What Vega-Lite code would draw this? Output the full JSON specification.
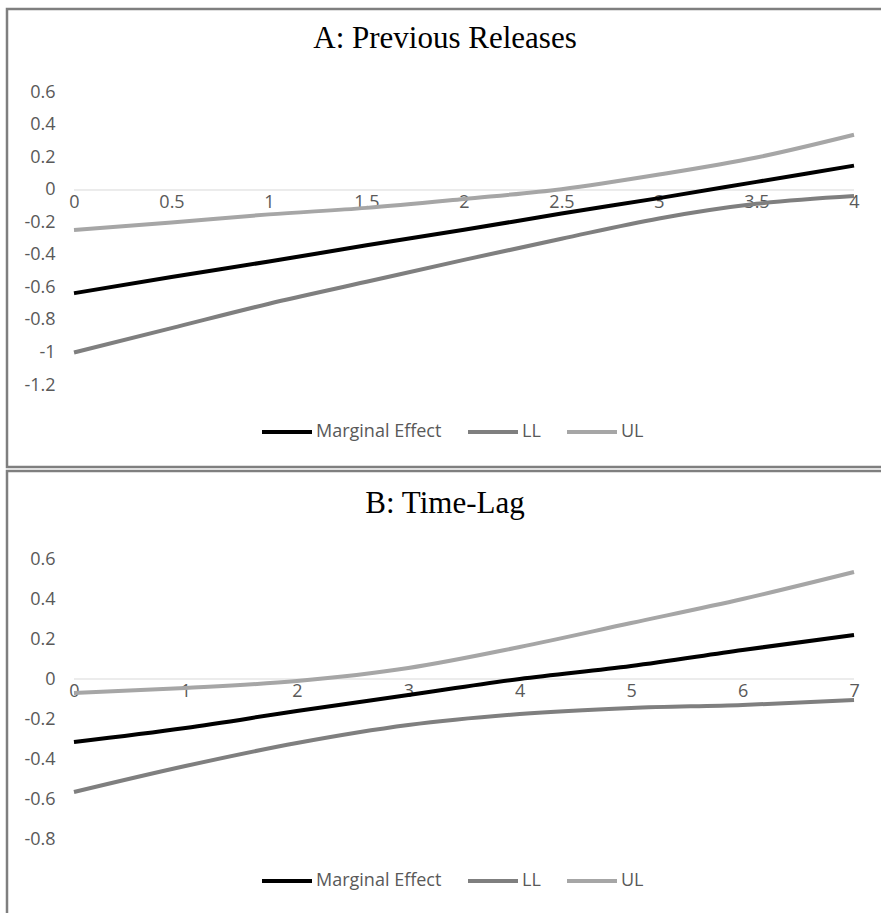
{
  "$schema": "https://vega.github.io/schema/vega-lite/v6.json",
  "padding": {"left": 5, "top": 7, "right": 0, "bottom": 0},
  "autosize": {"type": "pad"},
  "spacing": 0,
  "background": "#ffffff",
  "resolve": {
    "scale": {"x": "independent", "y": "independent", "color": "independent"},
    "axis": {"x": "independent", "y": "independent"},
    "legend": {"color": "independent"}
  },
  "config": {
    "view": {"stroke": "#7f7f7f", "strokeWidth": 2.5},
    "title": {"font": "Liberation Serif", "fontSize": 31, "fontWeight": "normal", "color": "#000000", "anchor": "middle", "baseline": "alphabetic", "frame": "group"},
    "axis": {"grid": false, "domain": false, "ticks": false, "labelFont": "Open Sans", "labelFontSize": 18, "labelColor": "#595959", "title": null},
    "legend": {"orient": "none", "direction": "horizontal", "title": null, "symbolType": "stroke", "symbolSize": 2500, "symbolStrokeWidth": 4, "labelFont": "Open Sans", "labelFontSize": 18, "labelColor": "#595959", "columnPadding": 18, "labelOffset": 2, "padding": 0}
  },
  "vconcat": [
    {
      "width": 876,
      "height": 458,
      "title": {"text": "A: Previous Releases", "offset": -46},
      "layer": [
        {
          "data": {"values": [{}]},
          "mark": {"type": "rule", "color": "#d9d9d9", "strokeWidth": 1},
          "encoding": {
            "x": {"datum": 0, "type": "quantitative"},
            "x2": {"datum": 4},
            "y": {"datum": 0, "type": "quantitative"}
          }
        },
        {
          "data": {"values": [
            {"x": 0, "value": -0.635, "series": "Marginal Effect"},
            {"x": 0.5, "value": -0.535, "series": "Marginal Effect"},
            {"x": 1, "value": -0.44, "series": "Marginal Effect"},
            {"x": 1.5, "value": -0.34, "series": "Marginal Effect"},
            {"x": 2, "value": -0.245, "series": "Marginal Effect"},
            {"x": 2.5, "value": -0.145, "series": "Marginal Effect"},
            {"x": 3, "value": -0.05, "series": "Marginal Effect"},
            {"x": 3.5, "value": 0.05, "series": "Marginal Effect"},
            {"x": 4, "value": 0.15, "series": "Marginal Effect"},
            {"x": 0, "value": -1.0, "series": "LL"},
            {"x": 0.5, "value": -0.85, "series": "LL"},
            {"x": 1, "value": -0.7, "series": "LL"},
            {"x": 1.5, "value": -0.565, "series": "LL"},
            {"x": 2, "value": -0.43, "series": "LL"},
            {"x": 2.5, "value": -0.3, "series": "LL"},
            {"x": 3, "value": -0.175, "series": "LL"},
            {"x": 3.5, "value": -0.085, "series": "LL"},
            {"x": 4, "value": -0.037, "series": "LL"},
            {"x": 0, "value": -0.246, "series": "UL"},
            {"x": 0.5, "value": -0.2, "series": "UL"},
            {"x": 1, "value": -0.15, "series": "UL"},
            {"x": 1.5, "value": -0.11, "series": "UL"},
            {"x": 2, "value": -0.055, "series": "UL"},
            {"x": 2.5, "value": 0.005, "series": "UL"},
            {"x": 3, "value": 0.095, "series": "UL"},
            {"x": 3.5, "value": 0.2, "series": "UL"},
            {"x": 4, "value": 0.34, "series": "UL"}
          ]},
          "mark": {"type": "line", "interpolate": "monotone", "strokeWidth": 4},
          "encoding": {
            "x": {"field": "x", "type": "quantitative",
              "scale": {"domain": [-0.3436, 4.1487], "nice": false, "zero": false},
              "axis": {"values": [0, 0.5, 1, 1.5, 2, 2.5, 3, 3.5, 4], "labelExpr": "'' + datum.value", "offset": -277, "labelPadding": 3}},
            "y": {"field": "value", "type": "quantitative",
              "scale": {"domain": [-1.7046, 1.1138], "nice": false, "zero": false},
              "axis": {"values": [0.6, 0.4, 0.2, 0, -0.2, -0.4, -0.6, -0.8, -1, -1.2], "labelExpr": "'' + datum.value", "offset": -55, "labelPadding": 7}},
            "color": {"field": "series", "type": "nominal",
              "scale": {"domain": ["Marginal Effect", "LL", "UL"], "range": ["#000000", "#7f7f7f", "#a6a6a6"]},
              "legend": {"legendX": 253, "legendY": 396}},
            "order": {"field": "x"}
          }
        }
      ]
    },
    {
      "width": 876,
      "height": 448,
      "title": {"text": "B: Time-Lag", "offset": -49},
      "layer": [
        {
          "data": {"values": [{}]},
          "mark": {"type": "rule", "color": "#d9d9d9", "strokeWidth": 1},
          "encoding": {
            "x": {"datum": 0, "type": "quantitative"},
            "x2": {"datum": 7},
            "y": {"datum": 0, "type": "quantitative"}
          }
        },
        {
          "data": {"values": [
            {"x": 0, "value": -0.315, "series": "Marginal Effect"},
            {"x": 1, "value": -0.245, "series": "Marginal Effect"},
            {"x": 2, "value": -0.16, "series": "Marginal Effect"},
            {"x": 3, "value": -0.08, "series": "Marginal Effect"},
            {"x": 4, "value": 0.0, "series": "Marginal Effect"},
            {"x": 5, "value": 0.065, "series": "Marginal Effect"},
            {"x": 6, "value": 0.145, "series": "Marginal Effect"},
            {"x": 7, "value": 0.22, "series": "Marginal Effect"},
            {"x": 0, "value": -0.565, "series": "LL"},
            {"x": 1, "value": -0.435, "series": "LL"},
            {"x": 2, "value": -0.32, "series": "LL"},
            {"x": 3, "value": -0.23, "series": "LL"},
            {"x": 4, "value": -0.175, "series": "LL"},
            {"x": 5, "value": -0.145, "series": "LL"},
            {"x": 6, "value": -0.13, "series": "LL"},
            {"x": 7, "value": -0.105, "series": "LL"},
            {"x": 0, "value": -0.07, "series": "UL"},
            {"x": 1, "value": -0.045, "series": "UL"},
            {"x": 2, "value": -0.01, "series": "UL"},
            {"x": 3, "value": 0.055, "series": "UL"},
            {"x": 4, "value": 0.16, "series": "UL"},
            {"x": 5, "value": 0.28, "series": "UL"},
            {"x": 6, "value": 0.4, "series": "UL"},
            {"x": 7, "value": 0.535, "series": "UL"}
          ]},
          "mark": {"type": "line", "interpolate": "monotone", "strokeWidth": 4},
          "encoding": {
            "x": {"field": "x", "type": "quantitative",
              "scale": {"domain": [-0.601, 7.26], "nice": false, "zero": false},
              "axis": {"values": [0, 1, 2, 3, 4, 5, 6, 7], "labelExpr": "'' + datum.value", "offset": -240, "labelPadding": 3}},
            "y": {"field": "value", "type": "quantitative",
              "scale": {"domain": [-1.2, 1.04], "nice": false, "zero": false},
              "axis": {"values": [0.6, 0.4, 0.2, 0, -0.2, -0.4, -0.6, -0.8], "labelExpr": "'' + datum.value", "offset": -55, "labelPadding": 7}},
            "color": {"field": "series", "type": "nominal",
              "scale": {"domain": ["Marginal Effect", "LL", "UL"], "range": ["#000000", "#7f7f7f", "#a6a6a6"]},
              "legend": {"legendX": 253, "legendY": 383}},
            "order": {"field": "x"}
          }
        }
      ]
    }
  ]
}
